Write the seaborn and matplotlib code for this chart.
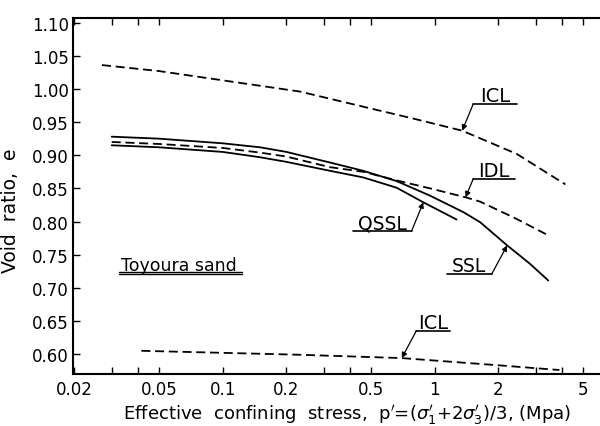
import numpy as np
import pandas as pd
import matplotlib
matplotlib.use("Agg")
import matplotlib.pyplot as plt
import seaborn as sns

# ---------------- data ----------------
icl_up_p = [0.027, 0.05, 0.1, 0.232, 0.478, 0.8, 1.35, 2.44, 4.14]
icl_up_e = [1.036, 1.027, 1.013, 0.996, 0.972, 0.955, 0.937, 0.902, 0.856]

idl_p = [0.03, 0.05, 0.1, 0.15, 0.2, 0.321, 0.461, 0.662, 0.952, 1.42, 1.64, 2.4, 3.35]
idl_e = [0.920, 0.917, 0.911, 0.904, 0.898, 0.882, 0.875, 0.862, 0.850, 0.836, 0.830, 0.805, 0.781]

ssl_p = [0.03, 0.05, 0.1, 0.15, 0.2, 0.321, 0.461, 0.662, 0.952, 1.37, 1.64, 2.2, 2.8, 3.44]
ssl_e = [0.928, 0.925, 0.918, 0.912, 0.905, 0.889, 0.8765, 0.861, 0.839, 0.814, 0.799, 0.764, 0.737, 0.711]

qssl_p = [0.03, 0.05, 0.1, 0.15, 0.2, 0.321, 0.461, 0.662, 0.885, 1.27]
qssl_e = [0.915, 0.912, 0.905, 0.897, 0.890, 0.8765, 0.8665, 0.851, 0.829, 0.803]

icl_lo_p = [0.0414, 0.232, 0.70, 2.03, 3.88]
icl_lo_e = [0.605, 0.599, 0.594, 0.583, 0.576]

xtick_vals = [0.02, 0.05, 0.1, 0.2, 0.5, 1, 2, 5]
xtick_labels = ["0.02", "0.05", "0.1", "0.2", "0.5", "1", "2", "5"]
xminor_vals = [0.03, 0.04, 0.3, 0.4, 3, 4]
ytick_vals = [0.60, 0.65, 0.70, 0.75, 0.80, 0.85, 0.90, 0.95, 1.00, 1.05, 1.10]

# ---------------- figure ----------------
sns.set_style("ticks")
plt.rcParams['font.family'] = ['DejaVu Sans']
plt.rcParams['mathtext.fontset'] = 'dejavusans'
plt.rcParams['text.color'] = 'black'
plt.rcParams['axes.labelcolor'] = 'black'
plt.rcParams['xtick.color'] = 'black'
plt.rcParams['ytick.color'] = 'black'

fig = plt.figure(figsize=(6.0, 4.27), dpi=100)
ax = fig.add_axes([73 / 600, 1 - 375 / 427, 1 - 73 / 600, (375 - 19) / 427])

curves = [
    (icl_up_p, icl_up_e, (5, 2.6)),
    (idl_p, idl_e, (5, 2.6)),
    (ssl_p, ssl_e, None),
    (qssl_p, qssl_e, None),
    (icl_lo_p, icl_lo_e, (5, 2.6)),
]
for p, e, dash in curves:
    df = pd.DataFrame({"p": p, "e": e})
    sns.lineplot(data=df, x="p", y="e", ax=ax, color="black", lw=1.3,
                 estimator=None, sort=False)
    line = ax.lines[-1]
    if dash is not None:
        line.set_dashes(dash)

ax.set_xscale("log")
ax.set_xlim(0.0197, 6.03)
ax.set_ylim(0.570, 1.107)

ax.set_xticks(xtick_vals)
ax.set_xticklabels(xtick_labels)
ax.set_xticks(xminor_vals, minor=True)
ax.xaxis.set_minor_formatter(matplotlib.ticker.NullFormatter())
ax.set_yticks(ytick_vals)
ax.set_yticklabels([f"{v:.2f}" for v in ytick_vals])

ax.tick_params(axis="both", which="both", direction="in", length=5, width=1,
               colors="black", labelsize=12, top=True, right=False)
ax.tick_params(axis="x", pad=4)
ax.tick_params(axis="y", pad=3)
for s in ["left", "bottom", "top"]:
    ax.spines[s].set_visible(True)
    ax.spines[s].set_linewidth(1.5)
    ax.spines[s].set_color("black")
ax.spines["right"].set_visible(False)

ax.set_ylabel("Void  ratio,  e", fontsize=13.5, color="black")
ax.yaxis.set_label_coords(-0.10, 0.46)
ax.set_xlabel(r"Effective  confining  stress,  p$'$=($\sigma_1'$+2$\sigma_3'$)/3, (Mpa)",
              fontsize=13, color="black")
ax.xaxis.set_label_coords(0.52, -0.078)


def interp_curve(p, e, x):
    return float(np.interp(np.log10(x), np.log10(p), e))


def label(text, tip_x, curve_p, curve_e, ux0, ux1, uy, attach, fs=14):
    ty = interp_curve(curve_p, curve_e, tip_x)
    ax.plot([ux0, ux1], [uy, uy], color="black", lw=1.2)
    sx = ux0 if attach == "left" else ux1
    ax.annotate("", xy=(tip_x, ty), xytext=(sx, uy),
                arrowprops=dict(arrowstyle="-|>", color="black", lw=0.9,
                                shrinkA=0, shrinkB=0, mutation_scale=8))
    xc = 10 ** ((np.log10(ux0) + np.log10(ux1)) / 2)
    ax.annotate(text, xy=(xc, uy), xytext=(0, 2), textcoords="offset points",
                ha="center", va="baseline", fontsize=fs, color="black")


label("ICL", 1.35, icl_up_p, icl_up_e, 1.52, 2.46, 0.977, "left")
label("IDL", 1.40, idl_p, idl_e, 1.52, 2.40, 0.864, "left")
label("QSSL", 0.885, qssl_p, qssl_e, 0.413, 0.78, 0.786, "right", fs=13.5)
label("SSL", 2.2, ssl_p, ssl_e, 1.14, 1.86, 0.7207, "right", fs=13.5)
label("ICL", 0.70, icl_lo_p, icl_lo_e, 0.82, 1.18, 0.635, "left")

ax.text(0.0333, 0.7275, "Toyoura sand", fontsize=12.5, ha="left", va="baseline",
        color="black")
ax.plot([0.0324, 0.123], [0.7235, 0.7235], color="black", lw=1.0)
ax.plot([0.0324, 0.123], [0.7205, 0.7205], color="black", lw=1.0)

fig.savefig("out.png", dpi=100)
